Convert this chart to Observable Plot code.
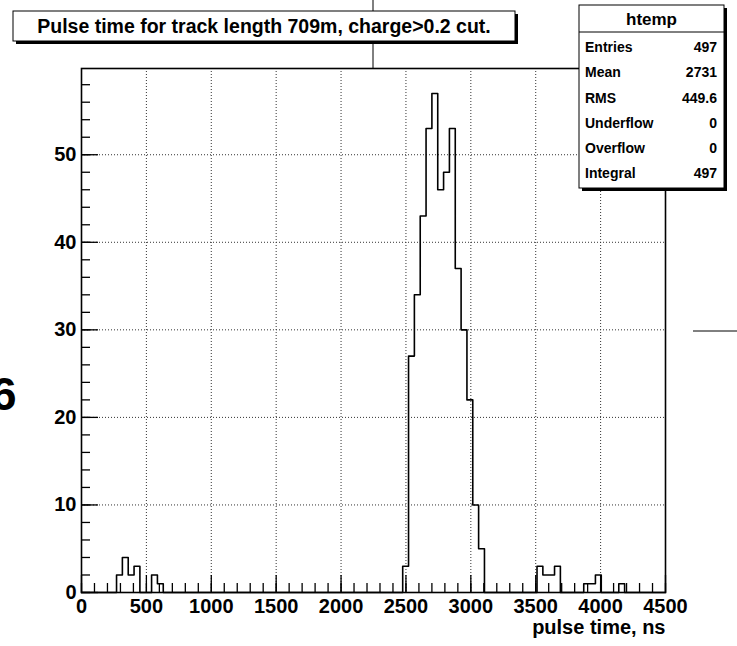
<!DOCTYPE html>
<html><head><meta charset="utf-8">
<script src="https://cdn.jsdelivr.net/npm/d3@7"></script>
<script src="https://cdn.jsdelivr.net/npm/@observablehq/plot@0.6"></script>
<style>body{margin:0;background:#fff;} svg{display:block}</style>
</head><body><div id="chart"></div>
<script>
// ---- data ----
const binStart = 0;
const binWidth = 45;
const counts = [
  0,0,0,0,0,0,2,4,2,3,
  0,0,2,1,0,0,0,0,0,0,
  0,0,0,0,0,0,0,0,0,0,
  0,0,0,0,0,0,0,0,0,0,
  0,0,0,0,0,0,0,0,0,0,
  0,0,0,0,0,3,27,34,43,53,
  57,46,48,53,37,30,22,10,5,0,
  0,0,0,0,0,0,0,0,3,2,
  2,3,0,0,0,0,1,1,2,0,
  0,0,1,0,0,0,0,0,0,0
];
const xMajor = [0,500,1000,1500,2000,2500,3000,3500,4000,4500];
const xMinor = d3.range(0, 4501, 100);
const yMajor = [0,10,20,30,40,50];
const yMinor = d3.range(0, 60, 2);
const titleText = "Pulse time for track length 709m, charge>0.2 cut.";
const xLabel = "pulse time, ns";
const statsTitle = "htemp";
const statsNames = ["Entries","Mean","RMS","Underflow","Overflow","Integral"];
const statsValues = ["497","2731","449.6","0","0","497"];

// ---- layout ----
const W = 737, H = 646, mL = 81, mR = 72, mT = 68, mB = 54;
const plotW = W - mL - mR, plotH = H - mT - mB;
const font = "'Liberation Sans', Arial, Helvetica, sans-serif";

const bins = counts.map((c, i) => ({x: binStart + i * binWidth, y: c}));
bins.push({x: binStart + counts.length * binWidth, y: 0});

const chart = Plot.plot({
  width: W, height: H,
  marginLeft: mL, marginRight: mR, marginTop: mT, marginBottom: mB,
  style: {fontFamily: font, background: "#fff", overflow: "visible"},
  x: {domain: [0, 4500]},
  y: {domain: [0, d3.max(counts) * 1.05]},
  marks: [
    Plot.gridX(xMajor.slice(1, -1), {stroke: "#333", strokeOpacity: 1, strokeDasharray: "1,2"}),
    Plot.gridY(yMajor.slice(1), {stroke: "#333", strokeOpacity: 1, strokeDasharray: "1,2"}),
    Plot.tickX(xMinor, {x: d => d, insetTop: plotH - 9, stroke: "#000", strokeWidth: 1.3}),
    Plot.tickX(xMajor, {x: d => d, insetTop: plotH - 17, stroke: "#000", strokeWidth: 1.3}),
    Plot.tickY(yMinor, {y: d => d, insetRight: plotW - 9, stroke: "#000", strokeWidth: 1.3}),
    Plot.tickY(yMajor, {y: d => d, insetRight: plotW - 17, stroke: "#000", strokeWidth: 1.3}),
    Plot.line(bins, {x: "x", y: "y", curve: "step-after", stroke: "#000", strokeWidth: 1.6}),
    Plot.axisX(xMajor, {tickSize: 0, tickPadding: 6, fontSize: 20, fontWeight: "bold", fill: "#000", label: null, tickFormat: d => String(d)}),
    Plot.axisY(yMajor, {tickSize: 0, tickPadding: 5, fontSize: 20, fontWeight: "bold", fill: "#000", label: null, tickFormat: d => String(d)}),
    Plot.text([xLabel], {frameAnchor: "bottom-right", dy: 41, textAnchor: "end", fontSize: 20, fontWeight: "bold", fill: "#000"}),
    Plot.frame({stroke: "#000", strokeWidth: 1.6})
  ]
});
document.getElementById("chart").appendChild(chart);

// ---- decorations (pave boxes) ----
const svg = d3.select(chart);
const g = svg.append("g").attr("font-family", font).attr("font-weight", "bold").attr("text-anchor", "start");

// stray lines / glyph from the surrounding canvas
g.append("line").attr("x1", 373).attr("x2", 373).attr("y1", 0).attr("y2", mT).attr("stroke", "#000").attr("stroke-width", 1);
g.append("line").attr("x1", 693).attr("x2", W).attr("y1", 331).attr("y2", 331).attr("stroke", "#000").attr("stroke-width", 1);
g.append("text").attr("x", -9).attr("y", 410).attr("font-size", 46).attr("font-weight", "bold").attr("fill", "#000").text("6");

// title box
const tb = {x: 13, y: 11, w: 502, h: 30};
g.append("rect").attr("x", tb.x + 3).attr("y", tb.y + 3).attr("width", tb.w).attr("height", tb.h).attr("fill", "#000");
g.append("rect").attr("x", tb.x).attr("y", tb.y).attr("width", tb.w).attr("height", tb.h).attr("fill", "#fff").attr("stroke", "#000").attr("stroke-width", 1);
g.append("text").attr("x", tb.x + tb.w / 2).attr("y", tb.y + tb.h / 2).attr("dy", "0.35em")
  .attr("text-anchor", "middle").attr("font-size", 19.5).attr("fill", "#000").text(titleText);

// stats box
const sb = {x: 579, y: 5, w: 145, h: 183};
g.append("rect").attr("x", sb.x + 3).attr("y", sb.y + 3).attr("width", sb.w).attr("height", sb.h).attr("fill", "#000");
g.append("rect").attr("x", sb.x).attr("y", sb.y).attr("width", sb.w).attr("height", sb.h).attr("fill", "#fff").attr("stroke", "#000").attr("stroke-width", 1);
g.append("line").attr("x1", sb.x).attr("x2", sb.x + sb.w).attr("y1", sb.y + 27).attr("y2", sb.y + 27).attr("stroke", "#000");
g.append("text").attr("x", sb.x + sb.w / 2).attr("y", sb.y + 14).attr("dy", "0.35em")
  .attr("text-anchor", "middle").attr("font-size", 17).attr("fill", "#000").text(statsTitle);
statsNames.forEach((n, i) => {
  const y = sb.y + 42 + i * 25.3;
  g.append("text").attr("x", sb.x + 6).attr("y", y).attr("dy", "0.35em").attr("text-anchor", "start").attr("font-size", 14).attr("fill", "#000").text(n);
  g.append("text").attr("x", sb.x + sb.w - 7).attr("y", y).attr("dy", "0.35em").attr("text-anchor", "end").attr("font-size", 14).attr("fill", "#000").text(statsValues[i]);
});
</script></body></html>
